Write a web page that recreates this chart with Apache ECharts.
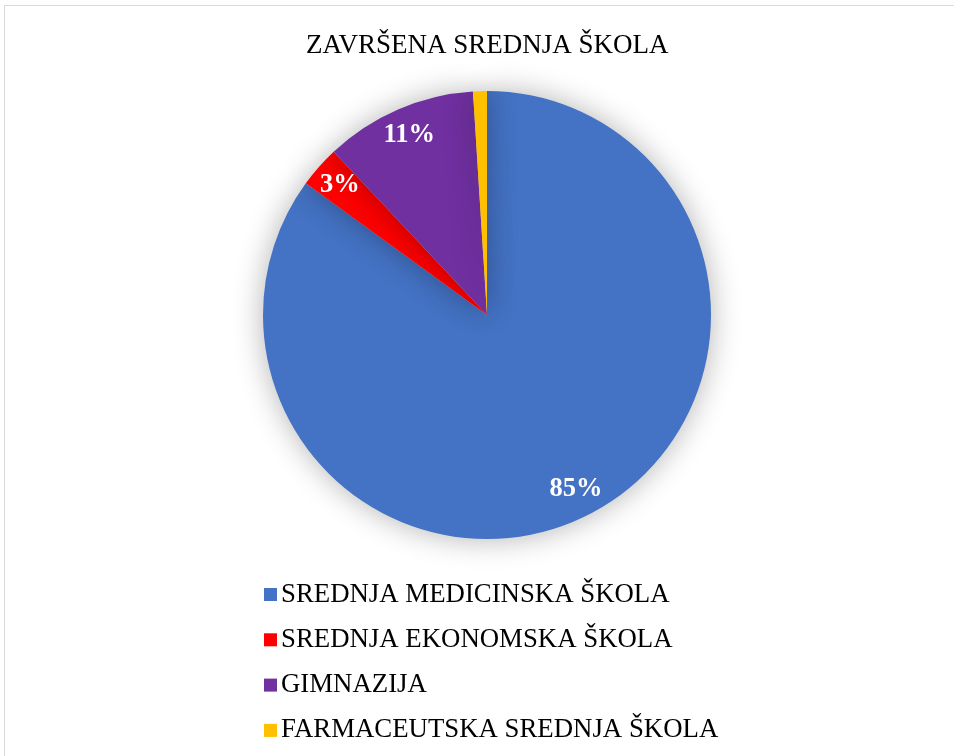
<!DOCTYPE html>
<html>
<head>
<meta charset="utf-8">
<script src="https://cdn.jsdelivr.net/npm/echarts@6/dist/echarts.min.js"></script>
<style>
html,body{margin:0;padding:0;background:#fff;}
#frame{position:absolute;left:4px;top:5px;width:1000px;height:800px;border-left:1px solid #d9d9d9;border-top:1px solid #d9d9d9;}
#chart{position:absolute;left:0;top:0;width:954px;height:756px;}
</style>
</head>
<body>
<div id="frame"></div>
<div id="chart"></div>
<script>
const titleText = 'ZAVRŠENA SREDNJA ŠKOLA';
const categories = ['SREDNJA MEDICINSKA ŠKOLA', 'SREDNJA EKONOMSKA ŠKOLA', 'GIMNAZIJA', 'FARMACEUTSKA SREDNJA ŠKOLA'];
const values = [85, 3, 11, 1];
const colors = ['#4472C4', '#FF0000', '#7030A0', '#FFC000'];
const showLabel = [true, true, true, false];

const font = '"Liberation Serif", "Times New Roman", serif';
const data = categories.map((c, i) => ({name: c, value: values[i], itemStyle: {color: colors[i]}}));
const labelData = categories.map((c, i) => ({name: c, value: values[i], label: {show: showLabel[i]}}));

const chart = echarts.init(document.getElementById('chart'), null, {renderer: 'canvas'});
chart.setOption({
  backgroundColor: 'transparent',
  animation: false,
  title: {
    text: titleText, left: 301, top: 27,
    textStyle: {fontFamily: font, fontSize: 27, fontWeight: 'normal', color: '#000'}
  },
  legend: {
    orient: 'vertical', left: 259, top: 576,
    icon: 'rect', itemWidth: 13, itemHeight: 13, itemGap: 18.3,
    data: categories,
    textStyle: {fontFamily: font, fontSize: 26.8, color: '#000', padding: [0, 0, 0, -1]}
  },
  series: [{
    type: 'pie', center: [487, 315], radius: [0, 224],
    startAngle: 90, clockwise: true,
    data: data,
    label: {show: false}, labelLine: {show: false},
    itemStyle: {shadowBlur: 30, shadowColor: 'rgba(0,0,0,0.3)', borderWidth: 0},
    emphasis: {disabled: true}
  }, {
    type: 'pie', center: [487, 315], radius: [156, 230],
    startAngle: 90, clockwise: true, silent: true,
    data: labelData,
    itemStyle: {color: 'rgba(0,0,0,0)'},
    label: {position: 'inside', formatter: '{c}%', fontFamily: font, fontSize: 26.5, fontWeight: 'bold', color: '#fff'},
    labelLine: {show: false},
    emphasis: {disabled: true}
  }]
});
</script>
</body>
</html>
